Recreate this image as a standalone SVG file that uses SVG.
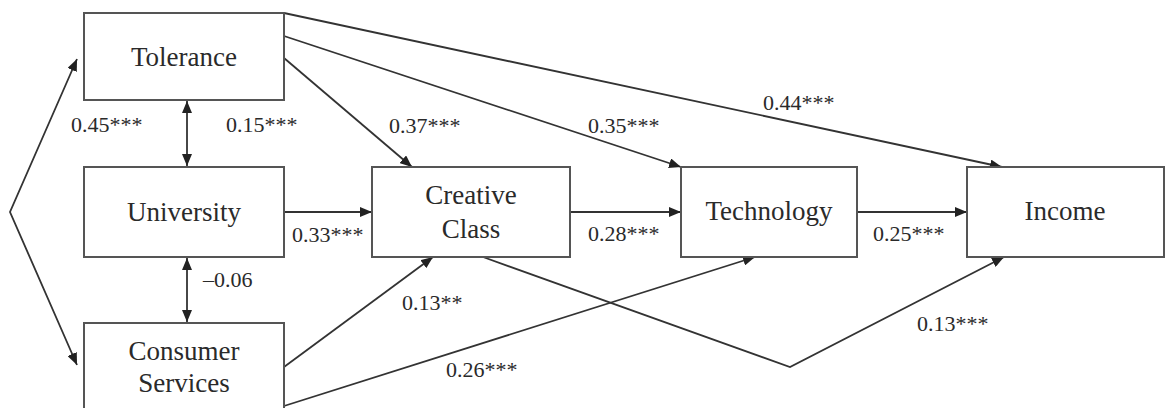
<svg xmlns="http://www.w3.org/2000/svg" width="1165" height="408" viewBox="0 0 1165 408">
<style>
.box{fill:#fff;stroke:#555;stroke-width:2}
.nt{font-family:"Liberation Serif","Times New Roman",serif;font-size:27px;fill:#2a2a2a;text-anchor:middle}
.lb{font-family:"Liberation Serif","Times New Roman",serif;font-size:22px;fill:#2a2a2a}
.c{fill:none;stroke:#333;stroke-width:1.8}
</style>
<defs>
<marker id="ah" viewBox="0 0 12 10" refX="12" refY="5" markerWidth="12" markerHeight="10" markerUnits="userSpaceOnUse" orient="auto-start-reverse">
<path d="M0,0 L12,5 L0,10 z" fill="#222"/>
</marker>
</defs>
<rect width="1165" height="408" fill="#fff"/>
<g id="connectors">
<polyline class="c" points="77,59 10,212 77,365" marker-start="url(#ah)" marker-end="url(#ah)"/>
<line class="c" x1="187" y1="101" x2="187" y2="166" marker-start="url(#ah)" marker-end="url(#ah)"/>
<line class="c" x1="187" y1="258" x2="187" y2="322" marker-start="url(#ah)" marker-end="url(#ah)"/>
<line class="c" x1="284" y1="58" x2="412" y2="167" marker-end="url(#ah)"/>
<line class="c" x1="284" y1="36" x2="681" y2="167" marker-end="url(#ah)"/>
<line class="c" x1="284" y1="13" x2="1002" y2="167" marker-end="url(#ah)"/>
<line class="c" x1="284" y1="212" x2="372" y2="212" marker-end="url(#ah)"/>
<line class="c" x1="570" y1="212" x2="681" y2="212" marker-end="url(#ah)"/>
<line class="c" x1="857" y1="212" x2="967" y2="212" marker-end="url(#ah)"/>
<line class="c" x1="284" y1="367" x2="433" y2="257" marker-end="url(#ah)"/>
<line class="c" x1="284" y1="406" x2="755" y2="257" marker-end="url(#ah)"/>
<polyline class="c" points="483,257 790,367 1004,257" marker-end="url(#ah)"/>
</g>
<g id="tolerance"><rect class="box" x="84" y="13" width="200" height="87"/><text class="nt" x="184" y="66">Tolerance</text></g>
<g id="university"><rect class="box" x="84" y="167" width="200" height="90"/><text class="nt" x="184" y="221">University</text></g>
<g id="consumer-services"><rect class="box" x="84" y="323" width="200" height="90"/><text class="nt" x="184" y="360">Consumer</text><text class="nt" x="184" y="392">Services</text></g>
<g id="creative-class"><rect class="box" x="372" y="167" width="198" height="90"/><text class="nt" x="471" y="204">Creative</text><text class="nt" x="471" y="238">Class</text></g>
<g id="technology"><rect class="box" x="681" y="167" width="176" height="90"/><text class="nt" x="769" y="220">Technology</text></g>
<g id="income"><rect class="box" x="967" y="167" width="197" height="90"/><text class="nt" x="1065" y="220">Income</text></g>
<g id="labels">
<text class="lb" x="71" y="132">0.45***</text>
<text class="lb" x="226" y="132">0.15***</text>
<text class="lb" x="389" y="133">0.37***</text>
<text class="lb" x="588" y="133">0.35***</text>
<text class="lb" x="763" y="110">0.44***</text>
<text class="lb" x="292" y="242">0.33***</text>
<text class="lb" x="203" y="287">–0.06</text>
<text class="lb" x="588" y="241">0.28***</text>
<text class="lb" x="873" y="241">0.25***</text>
<text class="lb" x="402" y="310">0.13**</text>
<text class="lb" x="446" y="377">0.26***</text>
<text class="lb" x="917" y="331">0.13***</text>
</g>
</svg>
